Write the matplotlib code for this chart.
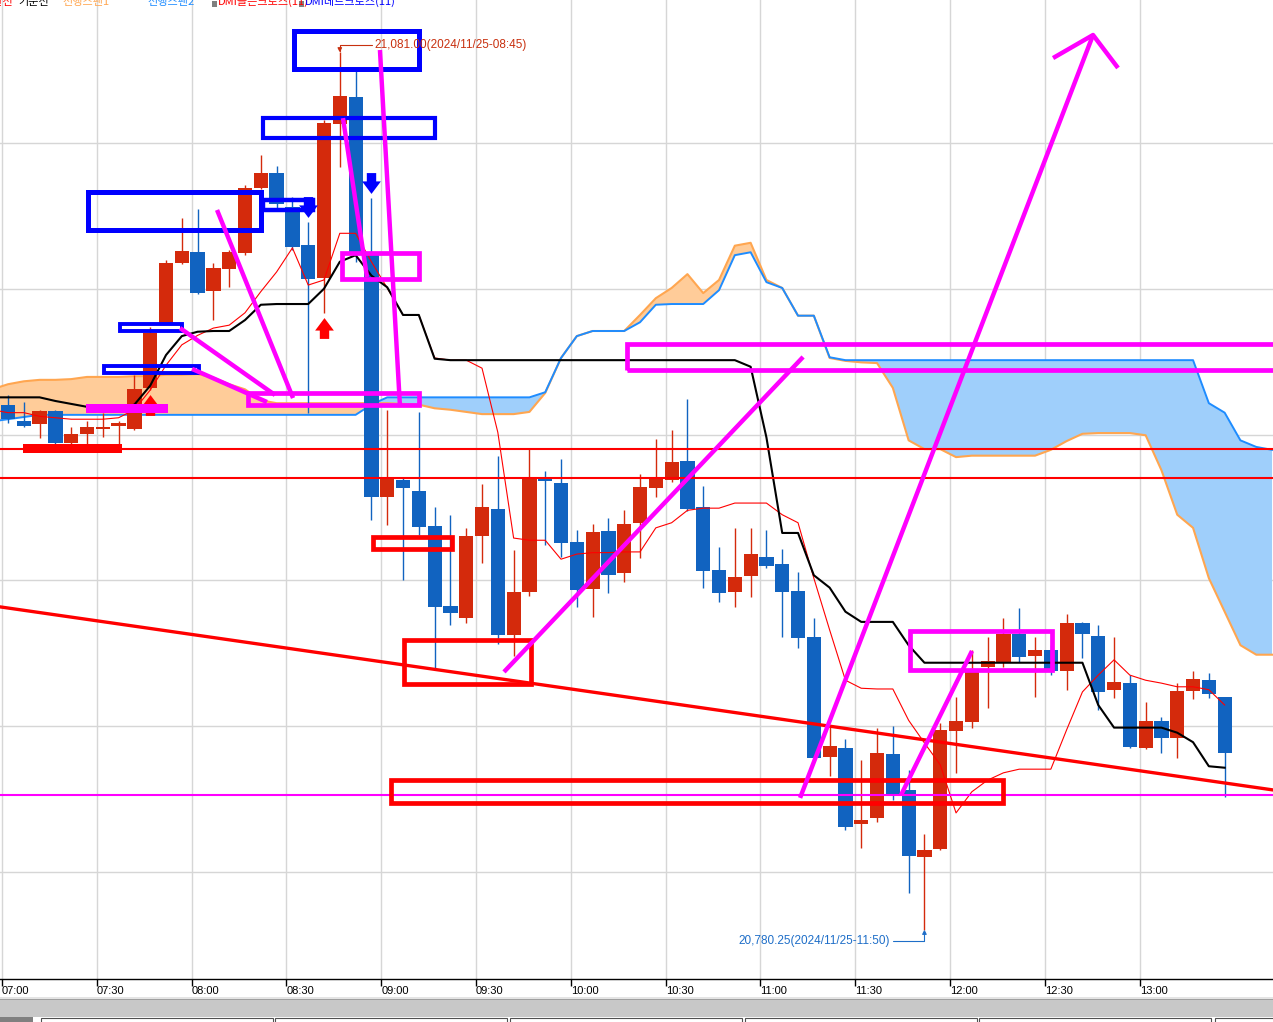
import numpy as np
import pandas as pd
import matplotlib.pyplot as plt
from matplotlib.patches import Rectangle

plt.rcParams['font.family'] = ['Liberation Sans', 'DejaVu Sans']

# 5 minute bars, 2024/11/25 07:00 ~ 13:25
opens = [20960.0, 20954.5, 20953.5, 20958.0, 20947.0, 20950.25, 20951.75, 20953.0, 20951.75, 20966.0,
         20988.25, 21008.75, 21012.5, 20999.25, 21006.75, 21012.25, 21034.5, 21039.75, 21028.0, 21015.0,
         21003.75, 21056.5, 21065.75, 21012.0, 20928.5, 20934.5, 20930.75, 20918.5, 20891.25, 20887.0,
         20915.25, 20924.5, 20881.25, 20896.0, 20935.0, 20933.5, 20913.25, 20897.0, 20917.0, 20902.5,
         20919.75, 20931.75, 20934.5, 20941.0, 20925.0, 20903.5, 20896.0, 20901.5, 20908.0, 20905.5,
         20896.25, 20880.5, 20839.5, 20842.5, 20816.5, 20818.5, 20840.5, 20828.0, 20805.25, 20807.75,
         20848.25, 20851.5, 20870.25, 20872.0, 20881.5, 20874.0, 20876.0, 20869.0, 20885.5, 20881.0,
         20862.5, 20864.75, 20842.5, 20851.75, 20846.0, 20862.0, 20865.75, 20860.0]
highs = [20963.5, 20961.25, 20958.5, 20958.5, 20952.5, 20954.5, 20957.5, 20954.5, 20970.5, 20987.0,
         21009.75, 21024.25, 21027.25, 21008.75, 21013.25, 21035.5, 21046.0, 21042.0, 21031.5, 21023.0,
         21058.0, 21081.0, 21075.0, 21031.0, 20958.5, 20935.5, 20957.75, 20925.0, 20922.5, 20918.0,
         20933.0, 20942.5, 20910.5, 20945.0, 20937.5, 20941.5, 20917.25, 20919.25, 20921.5, 20924.0,
         20936.5, 20948.5, 20951.5, 20962.25, 20932.25, 20911.5, 20918.0, 20918.0, 20917.25, 20910.75,
         20903.0, 20887.0, 20849.75, 20845.5, 20838.5, 20849.5, 20850.0, 20835.0, 20813.0, 20851.0,
         20860.0, 20876.0, 20880.5, 20887.0, 20890.5, 20880.5, 20877.75, 20888.5, 20885.75, 20884.75,
         20880.5, 20867.5, 20858.25, 20853.0, 20864.75, 20869.0, 20868.25, 20860.0]
lows = [20954.0, 20952.5, 20948.75, 20946.0, 20946.75, 20946.75, 20949.0, 20946.75, 20951.5, 20965.25,
        20988.0, 21008.5, 20998.25, 20989.25, 21000.5, 21011.5, 21034.25, 21027.25, 21013.25, 20957.5,
        20991.75, 21041.75, 21009.25, 20920.75, 20919.0, 20900.0, 20915.5, 20869.5, 20884.75, 20885.5,
        20906.0, 20878.25, 20874.0, 20894.75, 20912.0, 20908.0, 20891.0, 20887.5, 20895.75, 20899.5,
        20907.75, 20928.5, 20933.75, 20923.75, 20897.5, 20892.5, 20891.0, 20894.25, 20904.25, 20880.5,
        20876.75, 20838.5, 20833.0, 20814.5, 20808.25, 20817.25, 20824.75, 20792.75, 20780.25, 20807.5,
        20834.0, 20849.5, 20856.25, 20870.25, 20872.0, 20860.0, 20867.5, 20862.5, 20873.5, 20855.5,
        20859.75, 20842.5, 20842.25, 20840.75, 20839.0, 20859.25, 20859.75, 20825.75]
closes = [20955.25, 20953.0, 20958.0, 20947.0, 20950.25, 20952.5, 20952.5, 20954.0, 20965.5, 20984.75,
          21008.75, 21013.0, 20998.5, 21007.0, 21012.5, 21034.5, 21039.75, 21029.0, 21014.25, 21003.25,
          21056.75, 21066.0, 21011.5, 20928.5, 20935.0, 20931.75, 20918.25, 20891.0, 20888.75, 20915.25,
          20925.0, 20881.25, 20896.0, 20935.0, 20934.0, 20912.75, 20896.75, 20916.5, 20901.75, 20919.25,
          20932.0, 20934.75, 20940.5, 20924.5, 20903.25, 20895.75, 20901.0, 20909.0, 20905.0, 20896.0,
          20880.25, 20839.0, 20843.25, 20815.5, 20817.75, 20840.75, 20826.5, 20805.5, 20807.5, 20848.75,
          20851.75, 20869.0, 20872.25, 20881.5, 20873.75, 20876.0, 20869.0, 20885.5, 20881.5, 20861.75,
          20865.25, 20843.0, 20851.75, 20846.0, 20862.0, 20866.25, 20861.0, 20840.75]

# indicator series start one bar earlier (06:55) so they reach the left edge
# 기준선 (black) and 전환선 (thin red)
base_line = [20962.75,
             20962.75, 20962.75, 20962.75, 20961.5, 20960.5, 20959.5, 20959.0, 20959.0, 20960.25, 20966.75,
             20977.25, 20983.75, 20985.25, 20985.5, 20985.5, 20989.25, 20994.5, 20994.75, 20994.75, 20994.75,
             21000.0, 21009.25, 21011.5, 21004.5, 21000.5, 20991.0, 20991.0, 20976.0, 20975.5, 20975.5,
             20975.5, 20975.5, 20975.5, 20975.5, 20975.5, 20975.5, 20975.5, 20975.5, 20975.5, 20975.5,
             20975.5, 20975.5, 20975.5, 20975.5, 20975.5, 20975.5, 20975.5, 20973.25, 20949.0, 20916.25,
             20916.25, 20901.75, 20897.5, 20889.25, 20885.75, 20885.75, 20885.75, 20877.75, 20871.75, 20871.75,
             20871.75, 20871.75, 20871.75, 20871.75, 20871.75, 20871.75, 20871.75, 20871.75, 20871.75, 20857.25,
             20849.5, 20849.5, 20849.5, 20849.5, 20847.75, 20844.5, 20836.25, 20835.75]
conv_line = [20958.5,
             20957.5, 20957.5, 20956.25, 20955.75, 20955.25, 20955.25, 20955.25, 20955.75, 20958.5, 20965.25,
             20973.75, 20980.75, 20984.0, 20986.5, 20987.5, 20991.75, 20999.0, 21005.75, 21014.0, 21001.25,
             21003.0, 21019.0, 21019.0, 21009.25, 21000.25, 20991.0, 20991.0, 20976.25, 20975.5, 20975.5,
             20972.75, 20950.75, 20914.5, 20913.75, 20913.75, 20907.25, 20909.0, 20909.5, 20909.5, 20909.75,
             20909.75, 20918.0, 20919.75, 20924.0, 20924.75, 20924.75, 20926.5, 20926.5, 20926.5, 20922.5,
             20919.75, 20900.75, 20883.0, 20865.75, 20863.0, 20862.75, 20862.75, 20852.0, 20844.25, 20836.75,
             20820.25, 20827.5, 20831.5, 20834.0, 20835.25, 20835.25, 20835.25, 20848.75, 20861.75, 20867.5,
             20872.75, 20867.5, 20865.75, 20864.75, 20863.5, 20863.5, 20862.5, 20857.25]

# 선행스팬1 (orange) / 선행스팬2 (blue), shifted ahead so they run past the last bar
span1 = [20965.5,
         20967.25, 20968.25, 20968.75, 20968.75, 20969.0, 20969.75, 20969.75, 20969.75, 20970.0, 20970.0,
         20970.5, 20970.5, 20970.75, 20969.5, 20967.25, 20965.5, 20961.75, 20960.75, 20960.75, 20960.75,
         20960.75, 20960.75, 20960.75, 20960.75, 20960.75, 20960.5, 20960.25, 20959.0, 20958.5, 20957.75,
         20957.0, 20957.0, 20957.0, 20957.75, 20964.25, 20976.25, 20983.75, 20985.5, 20985.5, 20985.5,
         20991.0, 20996.75, 21000.25, 21005.0, 20998.5, 21003.0, 21014.75, 21015.75, 21003.0, 21000.25,
         20990.75, 20990.75, 20976.25, 20975.25, 20974.75, 20974.5, 20966.0, 20948.0, 20945.0, 20945.0,
         20942.25, 20942.75, 20942.75, 20942.75, 20942.75, 20942.75, 20944.75, 20947.75, 20950.25, 20950.5,
         20950.5, 20950.5, 20949.75, 20937.75, 20922.5, 20918.0, 20900.75, 20889.25, 20877.75, 20874.5,
         20874.5]
span2 = [20954.5,
         20955.25, 20956.0, 20956.75, 20956.75, 20956.75, 20956.75, 20956.75, 20956.75, 20956.75, 20956.75,
         20956.75, 20956.75, 20956.75, 20956.75, 20956.75, 20956.75, 20956.75, 20956.75, 20956.75, 20956.75,
         20956.75, 20956.75, 20956.75, 20960.25, 20962.75, 20962.75, 20962.75, 20962.75, 20962.75, 20962.75,
         20962.75, 20962.75, 20962.75, 20962.75, 20964.5, 20976.25, 20983.75, 20985.5, 20985.5, 20985.5,
         20988.5, 20994.5, 20994.75, 20994.75, 20994.75, 20999.5, 21011.5, 21012.5, 21002.25, 21000.25,
         20990.75, 20990.75, 20976.5, 20975.5, 20975.5, 20975.5, 20975.5, 20975.5, 20975.5, 20975.5,
         20975.5, 20975.5, 20975.5, 20975.5, 20975.5, 20975.5, 20975.5, 20975.5, 20975.5, 20975.5,
         20975.5, 20975.5, 20975.5, 20975.5, 20975.5, 20975.5, 20960.75, 20957.5, 20948.0, 20945.75,
         20944.75]

# DMI cross signals (bar index)
golden_cross = [9, 20]
dead_cross = [19, 23]

times = pd.date_range('2024-11-25 07:00', periods=len(opens), freq='5min').strftime('%H:%M').tolist()
tick_times = ['07:00', '07:30', '08:00', '08:30', '09:00', '09:30', '10:00',
              '10:30', '11:00', '11:30', '12:00', '12:30', '13:00']
grid_prices = [20800, 20850, 20900, 20950, 21000, 21050]

# hand drawn objects on the chart: (bar index, price)
red_hlines = [20945.0, 20935.0]
magenta_hline = 20826.5
red_trend = [(-0.5, 20890.9), (80.1, 20828.1)]
# boxes: (x0, x1, low, high)
blue_boxes = [(18.13, 26.04, 21075.5, 21088.5), (16.14, 27.03, 21051.7, 21058.5),
              (5.09, 16.04, 21020.3, 21033.0), (16.14, 19.3, 21027.0, 21030.4),
              (7.09, 11.01, 20985.5, 20987.9), (6.08, 12.09, 20971.1, 20973.5)]
magenta_boxes = [(15.16, 26.04, 20960.0, 20964.4), (21.11, 26.04, 21003.5, 21012.1),
                 (39.18, 82.0, 20972.0, 20980.9), (57.09, 66.08, 20869.4, 20882.5)]
red_boxes = [(23.1, 28.1, 20910.7, 20914.9), (25.09, 33.07, 20864.6, 20879.4),
             (24.21, 63.0, 20823.8, 20831.7)]
red_bar = (0.95, 7.2, 20943.7, 20946.75)
magenta_bar = (4.94, 10.13, 20957.4, 20960.5)
magenta_lines = [
    [(13.23, 21027.0), (18.04, 20962.5)],
    [(10.89, 20986.5), (16.9, 20963.55)],
    [(11.65, 20972.5), (16.39, 20961.15)],
    [(21.2, 21058.5), (22.72, 21004.0)],
    [(23.54, 21081.85), (24.81, 20959.4)],
    [(31.39, 20868.6), (50.32, 20976.6)],
    [(50.13, 20825.4), (68.67, 21087.0)],
    [(66.14, 21079.1), (68.67, 21087.0), (70.25, 21075.7)],
    [(56.52, 20826.4), (61.01, 20875.8)],
]

RED = '#D42A0C'
BLUE = '#1163C0'
W, H = 1273, 1022

fig = plt.figure(figsize=(W / 100, H / 100), dpi=100)
ax = fig.add_axes([0, 43 / H, 1, 979 / H])
ax.set_xlim(-0.506, 80.06)
ax.set_ylim(20763.3, 21099.0)

o = np.array(opens); h = np.array(highs); l = np.array(lows); c = np.array(closes)
x = np.arange(len(o))
cols = np.where(c >= o, RED, BLUE)

# ichimoku cloud
xc = np.arange(len(span1)) - 1
s1 = np.array(span1); s2 = np.array(span2)
ax.fill_between(xc, s1, s2, where=s1 >= s2, interpolate=True, color='#FFCC99', lw=0, zorder=1)
ax.fill_between(xc, s1, s2, where=s1 <= s2, interpolate=True, color='#9FCFFB', lw=0, zorder=1)
ax.plot(xc, s1, color='#FFA650', lw=1.5, zorder=1.5)
ax.plot(xc, s2, color='#1E8CFF', lw=1.4, zorder=1.6)

# candles
ax.vlines(x, l, h, colors=cols, lw=1.0, zorder=2)
ax.bar(x, np.maximum(np.abs(c - o), 0.4), bottom=np.minimum(o, c), width=0.9,
       color=cols, lw=0, zorder=3)

xl = np.arange(len(base_line)) - 1
ax.plot(xl, conv_line, color='red', lw=0.8, zorder=4)
ax.plot(xl, base_line, color='black', lw=1.5, zorder=4.1)

# DMI arrows (under the drawings)
up_arrow = [(-0.45, -1.0), (0.45, -1.0), (0.45, -0.2), (0.9, -0.2), (0.0, 1.0),
            (-0.9, -0.2), (-0.45, -0.2), (-0.45, -1.0)]
down_arrow = [(px, -py) for px, py in up_arrow]
ax.plot(golden_cross, [lows[i] - 5.1 for i in golden_cross], ls='none', marker=up_arrow,
        ms=15, color='#FF0000', mec='none', zorder=4.5)
ax.plot(dead_cross, [highs[i] + 5.1 for i in dead_cross], ls='none', marker=down_arrow,
        ms=15, color='#0000FF', mec='none', zorder=4.5)

# drawings
for p in red_hlines:
    ax.axhline(p, color='#FF0000', lw=1.5, zorder=5)
ax.axhline(magenta_hline, color='#FF00FF', lw=1.5, zorder=5)
ax.plot(*zip(*red_trend), color='#FF0000', lw=2.4, zorder=5)


def box(b, color, lw, fill=False):
    x0, x1, lo, hi = b
    ax.add_patch(Rectangle((x0, lo), x1 - x0, hi - lo, fill=fill, ec=color if not fill else 'none',
                           fc=color, lw=lw, joinstyle='miter', zorder=5.5))


for b, lw in zip(blue_boxes, [3.6, 3.0, 3.6, 3.2, 2.8, 2.8]):
    box(b, '#0000FF', lw)
for b in red_boxes:
    box(b, '#FF0000', 3.4)
for b in magenta_boxes:
    box(b, '#FF00FF', 3.4)
box(red_bar, '#FF0000', 0, fill=True)
box(magenta_bar, '#FF00FF', 0, fill=True)
for seg in magenta_lines:
    ax.plot(*zip(*seg), color='#FF00FF', lw=3.2, solid_capstyle='butt', zorder=6)

# high / low labels
hi_i = int(np.argmax(h)); lo_i = int(np.argmin(l))
ax.annotate(f"{h[hi_i]:,.2f}(2024/11/25-{times[hi_i]})", xy=(hi_i, h[hi_i]), xytext=(25, 5.4),
            textcoords='offset points', ha='left', va='center', fontsize=8.5, color='#C8300F', zorder=8,
            arrowprops=dict(arrowstyle='-|>,head_length=0.3,head_width=0.15', color='#C8300F', lw=0.8,
                            shrinkA=0, shrinkB=0, connectionstyle='angle,angleA=0,angleB=90,rad=0'))
ax.annotate(f"{l[lo_i]:,.2f}(2024/11/25-{times[lo_i]})", xy=(lo_i, l[lo_i]), xytext=(-24.5, -8.2),
            textcoords='offset points', ha='right', va='center', fontsize=8.5, color='#1E6EC8', zorder=8,
            arrowprops=dict(arrowstyle='-|>,head_length=0.3,head_width=0.15', color='#1E6EC8', lw=0.8,
                            shrinkA=0, shrinkB=0, connectionstyle='angle,angleA=0,angleB=90,rad=0'))

# axes / grid
ax.set_xticks([times.index(t) - 0.38 for t in tick_times])
ax.set_xticklabels(tick_times)
for lab in ax.get_xticklabels():
    lab.set_horizontalalignment('left')
ax.set_yticks(grid_prices)
ax.tick_params(axis='y', left=False, labelleft=False)
ax.tick_params(axis='x', direction='out', length=5, width=1, pad=0.3, labelsize=8, colors='black')
ax.grid(True, color='#d6d6d6', lw=1.0)
ax.set_axisbelow(True)
for s in ['top', 'left', 'right']:
    ax.spines[s].set_visible(False)
ax.spines['bottom'].set_color('black')
ax.spines['bottom'].set_linewidth(1.0)

# header legend (cut off at the top, as in the screen capture)
cjk = ['Noto Sans CJK KR', 'DejaVu Sans']
legend = [(13, '전환선', '#FF0000', 'right'), (18, '기준선', 'black', 'left'),
          (62, '선행스팬1', '#FFA650', 'left'), (147, '선행스팬2', '#1E8CFF', 'left'),
          (218, 'DMI골든크로스(11)', '#FF0000', 'left'), (305, 'DMI데드크로스(11)', '#0000FF', 'left')]
for px, txt, col, ha in legend:
    fig.text(px / W, 1 - 1.5 / H, txt, color=col, ha=ha, va='center', fontsize=8, family=cjk)
for px in [212, 299]:
    fig.patches.append(Rectangle((px / W, 1 - 7 / H), 5 / W, 6 / H, transform=fig.transFigure,
                                 color='#808080', lw=0))


def fig_rect(px, py, pw, ph, **kw):
    fig.patches.append(Rectangle((px / W, 1 - (py + ph) / H), pw / W, ph / H,
                                 transform=fig.transFigure, **kw))


# scroll bar and bottom tabs
fig_rect(0, 997, W, 2, color='#e4e4e4', lw=0)
fig_rect(0, 999, W, 1, color='#a0a0a0', lw=0)
fig_rect(0, 1000, W, 17, color='#c8c8c8', lw=0)
fig_rect(0, 1017, 33, 5, color='#808080', lw=0)
for tx in [41, 275, 510, 745, 979, 1215]:
    fig_rect(tx, 1017.5, 232, 6, fc='white', ec='#505050', lw=0.8)

fig.savefig('out.png', dpi=100)
